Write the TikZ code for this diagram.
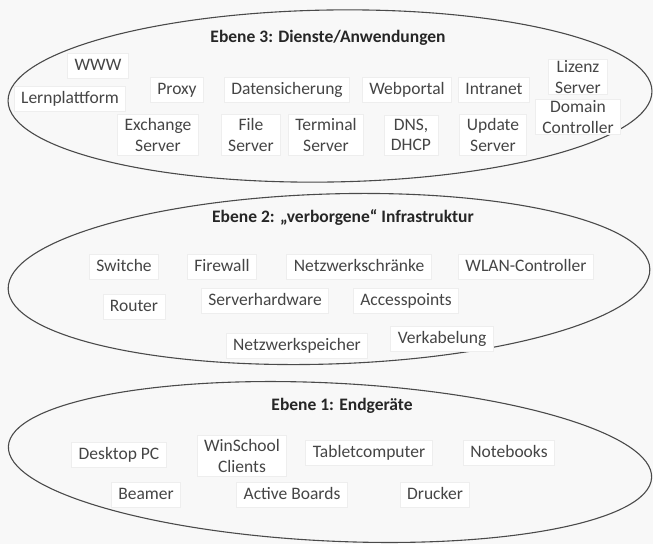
\documentclass[tikz,border=0pt]{standalone}
\usepackage{fontspec}
\setmainfont{Carlito}
\definecolor{inkline}{HTML}{4A4A4A}
\definecolor{labeltext}{HTML}{454545}
\definecolor{titletext}{HTML}{262626}
\definecolor{boxedge}{HTML}{EEEEEE}
\definecolor{paper}{HTML}{F8F8F8}
\tikzset{
  layer/.style={draw=inkline, line width=1.1pt},
  item/.style={fill=white, draw=boxedge, line width=0.9pt, text=labeltext,
    font=\fontsize{17.5}{20.5}\selectfont, inner xsep=7pt, inner ysep=4pt,
    align=center},
  oneline/.style={item, text height=12.5pt, text depth=4pt, anchor=base},
  layertitle/.style={text=titletext, font=\fontsize{17.5}{20.5}\selectfont\bfseries,
    anchor=base, inner sep=0pt}
}
\begin{document}
\begin{tikzpicture}[x=1pt,y=-1pt]
  % canvas
  \fill[paper] (0,0) rectangle (653,544);
  \useasboundingbox (0,0) rectangle (653,544);

  % the three layers
  \draw[layer, rotate around={0.9:(330,96)}] (330,96) ellipse [x radius=322pt, y radius=86pt];
  \draw[layer, rotate around={1.8:(329,279)}] (329,279) ellipse [x radius=321pt, y radius=85pt];
  \draw[layer, rotate around={-2.8:(330,462)}] (330,462) ellipse [x radius=322pt, y radius=79pt];

  % layer 3: services and applications
  \node[layertitle] (t3) at (328,42) {Ebene 3: Dienste/Anwendungen};
  \node[oneline] (www)   at (98,70)  {WWW};
  \node[oneline] (lern)  at (70,103) {Lernplattform};
  \node[oneline] (proxy) at (177,94) {Proxy};
  \node[oneline] (dsich) at (287,94) {Datensicherung};
  \node[oneline] (webp)  at (407,94) {Webportal};
  \node[oneline] (intra) at (494,94) {Intranet};
  \node[item, inner ysep=1pt] (lizenz) at (578,77)  {Lizenz\\Server};
  \node[item, inner ysep=1pt] (domain) at (578,117) {Domain\\Controller};
  \node[item] (exch) at (158,135) {Exchange\\Server};
  \node[item] (file) at (251,135) {File\\Server};
  \node[item] (term) at (326,135) {Terminal\\Server};
  \node[item] (dns)  at (411,135) {DNS,\\DHCP};
  \node[item] (upd)  at (493,135) {Update\\Server};

  % layer 2: hidden infrastructure
  \node[layertitle] (t2) at (343,222) {Ebene 2: „verborgene“ Infrastruktur};
  \node[oneline] (switch) at (124,271) {Switche};
  \node[oneline] (fw)     at (222,271) {Firewall};
  \node[oneline] (rack)   at (359,271) {Netzwerkschränke};
  \node[oneline] (wlan)   at (526,271) {WLAN-Controller};
  \node[oneline] (router) at (134,311) {Router};
  \node[oneline] (shw)    at (265,305) {Serverhardware};
  \node[oneline] (ap)     at (406,305) {Accesspoints};
  \node[oneline] (nas)    at (297,350) {Netzwerkspeicher};
  \node[oneline] (cable)  at (442,343) {Verkabelung};

  % layer 1: end devices
  \node[layertitle] (t1) at (342,410) {Ebene 1: Endgeräte};
  \node[oneline] (desk)   at (119,459) {Desktop PC};
  \node[item]    (win)    at (242,456) {WinSchool\\Clients};
  \node[oneline] (tablet) at (369,457) {Tabletcomputer};
  \node[oneline] (nb)     at (509,457) {Notebooks};
  \node[oneline] (beam)   at (146,499) {Beamer};
  \node[oneline] (board)  at (292,499) {Active Boards};
  \node[oneline] (druck)  at (435,499) {Drucker};
\end{tikzpicture}
\end{document}
